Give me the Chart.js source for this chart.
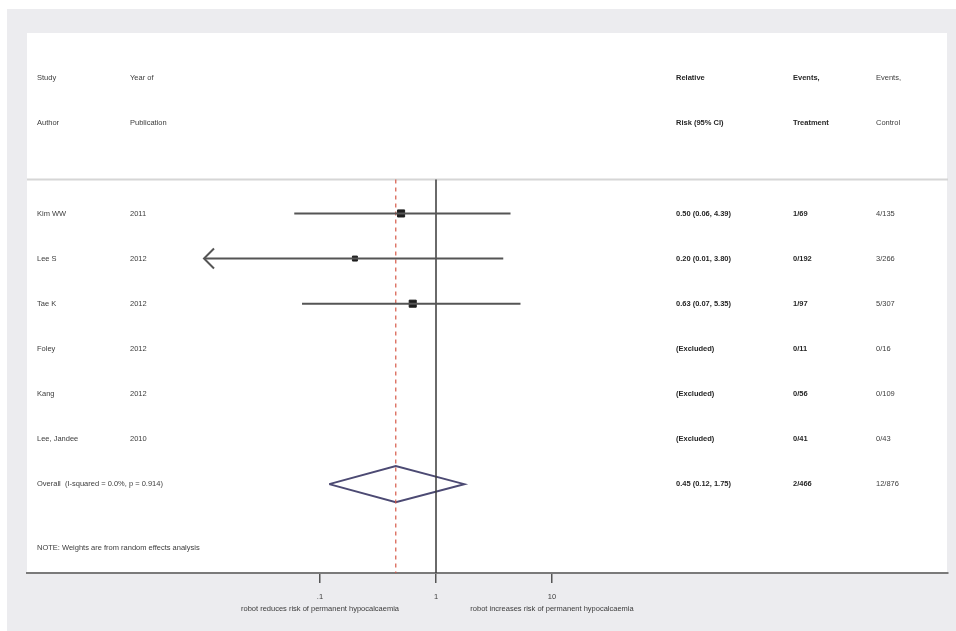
<!DOCTYPE html>
<html>
<head>
<meta charset="utf-8">
<style>
  html, body { margin: 0; padding: 0; background: #ffffff; }
  #wrap { position: relative; width: 956px; height: 631px; }
</style>
<script src="https://cdn.jsdelivr.net/npm/chart.js@4/dist/chart.umd.min.js"></script>
</head>
<body>
<div id="wrap"><canvas id="forest" width="956" height="631"></canvas></div>
<script>
// ---- study data ----
const studies   = ['Kim WW', 'Lee S', 'Tae K', 'Foley', 'Kang', 'Lee, Jandee'];
const years     = ['2011', '2012', '2012', '2012', '2012', '2010'];
const rr        = [0.50, 0.20, 0.63, null, null, null];
const rrLow     = [0.06, 0.01, 0.07, null, null, null];
const rrHigh    = [4.39, 3.80, 5.35, null, null, null];
const boxRadius = [5, 3.5, 5, 0, 0, 0];
const eventsTreatment = ['1/69', '0/192', '1/97', '0/11', '0/56', '0/41'];
const eventsControl   = ['4/135', '3/266', '5/307', '0/16', '0/109', '0/43'];

// ---- pooled estimate ----
const overallLabel = 'Overall  (I-squared = 0.0%, p = 0.914)';
const overallRR   = 0.45;
const overallLow  = 0.12;
const overallHigh = 1.75;
const overallTreatment = '2/466';
const overallControl   = '12/876';

// ---- axis ----
const tickValues = [0.1, 1, 10];
const tickLabels = ['.1', '1', '10'];
const axisCaptions = ['robot reduces risk of permanent hypocalcaemia',
                      'robot increases risk of permanent hypocalcaemia'];
const noteText = 'NOTE: Weights are from random effects analysis';

// ---- row layout (y axis units, one unit per row) ----
const HEADER_ROWS = [1, 2];
const FIRST_ROW = 4;
const OVERALL_ROW = FIRST_ROW + studies.length;
const NOTE_ROW = 11.42;
const SEPARATOR_ROW = 3.25;
const Y_MAX = 11.97;
const DIAMOND_HALF = 0.4;
const ARROW_FLOOR = 0.01; // lower display limit; intervals reaching it get an arrow

const fmt = v => v.toFixed(2);
const rrText = studies.map((s, i) =>
  rr[i] == null ? '(Excluded)' : `${fmt(rr[i])} (${fmt(rrLow[i])}, ${fmt(rrHigh[i])})`);
const overallText = `${fmt(overallRR)} (${fmt(overallLow)}, ${fmt(overallHigh)})`;

// ---- datasets ----
const datasets = [];

// confidence interval whiskers
studies.forEach((s, i) => {
  if (rr[i] == null) return;
  datasets.push({
    type: 'scatter', showLine: true,
    data: [{ x: rrLow[i], y: FIRST_ROW + i }, { x: rrHigh[i], y: FIRST_ROW + i }],
    borderColor: '#555555', borderWidth: 2, pointRadius: 0
  });
});

// line of no effect
datasets.push({
  type: 'scatter', showLine: true,
  data: [{ x: 1, y: SEPARATOR_ROW }, { x: 1, y: Y_MAX }],
  borderColor: '#3a3a3a', borderWidth: 1.5, pointRadius: 0
});

// pooled estimate reference line
datasets.push({
  type: 'scatter', showLine: true,
  data: [{ x: overallRR, y: SEPARATOR_ROW }, { x: overallRR, y: Y_MAX }],
  borderColor: '#d65a48', borderWidth: 1.2, borderDash: [4, 4], pointRadius: 0
});

// point estimates
datasets.push({
  type: 'scatter',
  data: studies.map((s, i) => rr[i] == null ? null : { x: rr[i], y: FIRST_ROW + i }).filter(Boolean),
  pointStyle: 'rect',
  pointRadius: boxRadius.filter((r, i) => rr[i] != null),
  backgroundColor: '#1e1e1e', borderColor: '#1e1e1e', borderWidth: 1
});

// pooled diamond
datasets.push({
  type: 'scatter', showLine: true,
  data: [
    { x: overallLow, y: OVERALL_ROW },
    { x: overallRR, y: OVERALL_ROW - DIAMOND_HALF },
    { x: overallHigh, y: OVERALL_ROW },
    { x: overallRR, y: OVERALL_ROW + DIAMOND_HALF },
    { x: overallLow, y: OVERALL_ROW }
  ],
  borderColor: '#4c4a73', borderWidth: 2, pointRadius: 0, tension: 0
});

// ---- panel background, header rule and arrow ----
const framePlugin = {
  id: 'frame',
  beforeDraw(chart) {
    const { ctx, chartArea: a, scales: { y } } = chart;
    ctx.save();
    ctx.fillStyle = '#ececef';
    ctx.fillRect(7, 9, 956 - 7, 631 - 9);
    ctx.fillStyle = '#ffffff';
    ctx.fillRect(a.left, a.top, a.right - a.left - 1, a.bottom - a.top);
    const sy = y.getPixelForValue(SEPARATOR_ROW);
    ctx.strokeStyle = '#d6d6d6';
    ctx.lineWidth = 2;
    ctx.beginPath();
    ctx.moveTo(a.left, sy);
    ctx.lineTo(a.right, sy);
    ctx.stroke();
    ctx.restore();
  },
  afterDatasetsDraw(chart) {
    const { ctx, scales: { x, y } } = chart;
    ctx.save();
    ctx.strokeStyle = '#555555';
    ctx.lineWidth = 2;
    studies.forEach((s, i) => {
      if (rr[i] == null || rrLow[i] > ARROW_FLOOR) return;
      const px = x.getPixelForValue(rrLow[i]);
      const py = y.getPixelForValue(FIRST_ROW + i);
      ctx.beginPath();
      ctx.moveTo(px + 10, py - 10);
      ctx.lineTo(px, py);
      ctx.lineTo(px + 10, py + 10);
      ctx.stroke();
    });
    ctx.restore();
  }
};

// ---- table text columns ----
const COL = { study: 37, year: 130, rr: 676, treat: 793, ctrl: 876 };
const REG = '7.5px "Liberation Sans", Arial, sans-serif';
const BOLD = 'bold 7.5px "Liberation Sans", Arial, sans-serif';

const textPlugin = {
  id: 'tableText',
  afterDraw(chart) {
    const { ctx, scales: { x, y } } = chart;
    ctx.save();
    ctx.textBaseline = 'middle';
    ctx.textAlign = 'left';
    const put = (txt, px, row, font, color) => {
      ctx.font = font;
      ctx.fillStyle = color || '#3c3c3c';
      ctx.fillText(txt, px, y.getPixelForValue(row));
    };
    // headers
    put('Study', COL.study, HEADER_ROWS[0], REG);
    put('Author', COL.study, HEADER_ROWS[1], REG);
    put('Year of', COL.year, HEADER_ROWS[0], REG);
    put('Publication', COL.year, HEADER_ROWS[1], REG);
    put('Relative', COL.rr, HEADER_ROWS[0], BOLD, '#262626');
    put('Risk (95% CI)', COL.rr, HEADER_ROWS[1], BOLD, '#262626');
    put('Events,', COL.treat, HEADER_ROWS[0], BOLD, '#262626');
    put('Treatment', COL.treat, HEADER_ROWS[1], BOLD, '#262626');
    put('Events,', COL.ctrl, HEADER_ROWS[0], REG);
    put('Control', COL.ctrl, HEADER_ROWS[1], REG);
    // study rows
    studies.forEach((s, i) => {
      const row = FIRST_ROW + i;
      put(s, COL.study, row, REG);
      put(years[i], COL.year, row, REG);
      put(rrText[i], COL.rr, row, BOLD, '#262626');
      put(eventsTreatment[i], COL.treat, row, BOLD, '#262626');
      put(eventsControl[i], COL.ctrl, row, REG);
    });
    // pooled row
    put(overallLabel, COL.study, OVERALL_ROW, REG);
    put(overallText, COL.rr, OVERALL_ROW, BOLD, '#262626');
    put(overallTreatment, COL.treat, OVERALL_ROW, BOLD, '#262626');
    put(overallControl, COL.ctrl, OVERALL_ROW, REG);
    put(noteText, COL.study, NOTE_ROW, REG);
    // captions under the axis
    ctx.textAlign = 'center';
    ctx.font = REG;
    ctx.fillStyle = '#3c3c3c';
    const capY = 609;
    ctx.fillText(axisCaptions[0], x.getPixelForValue(tickValues[0]), capY);
    ctx.fillText(axisCaptions[1], x.getPixelForValue(tickValues[2]), capY);
    ctx.restore();
  }
};

// log axis: one decade = 116 px, 1 at x = 436, plot spanning x 27..948
const X_MIN = Math.pow(10, -409 / 116);
const X_MAX = Math.pow(10, 512 / 116);

new Chart(document.getElementById('forest'), {
  type: 'scatter',
  data: { datasets },
  options: {
    responsive: false,
    animation: false,
    layout: { padding: { top: 33, left: 27, right: 8, bottom: 28 } },
    plugins: { legend: { display: false }, tooltip: { enabled: false } },
    scales: {
      x: {
        type: 'logarithmic',
        min: X_MIN, max: X_MAX,
        afterBuildTicks: s => { s.ticks = tickValues.map(v => ({ value: v })); },
        afterFit: s => { s.height = 30; },
        border: { display: true, color: '#7a7a7a', width: 2 },
        grid: { drawOnChartArea: false, drawTicks: true, tickLength: 10, color: '#555555', lineWidth: 1.5 },
        ticks: {
          autoSkip: false, maxRotation: 0, padding: 9,
          color: '#3c3c3c',
          font: { family: '"Liberation Sans", Arial, sans-serif', size: 7.5 },
          callback: (v, i) => tickLabels[i]
        }
      },
      y: {
        type: 'linear', display: false, reverse: true,
        min: 0, max: Y_MAX
      }
    }
  },
  plugins: [framePlugin, textPlugin]
});
</script>
</body>
</html>
